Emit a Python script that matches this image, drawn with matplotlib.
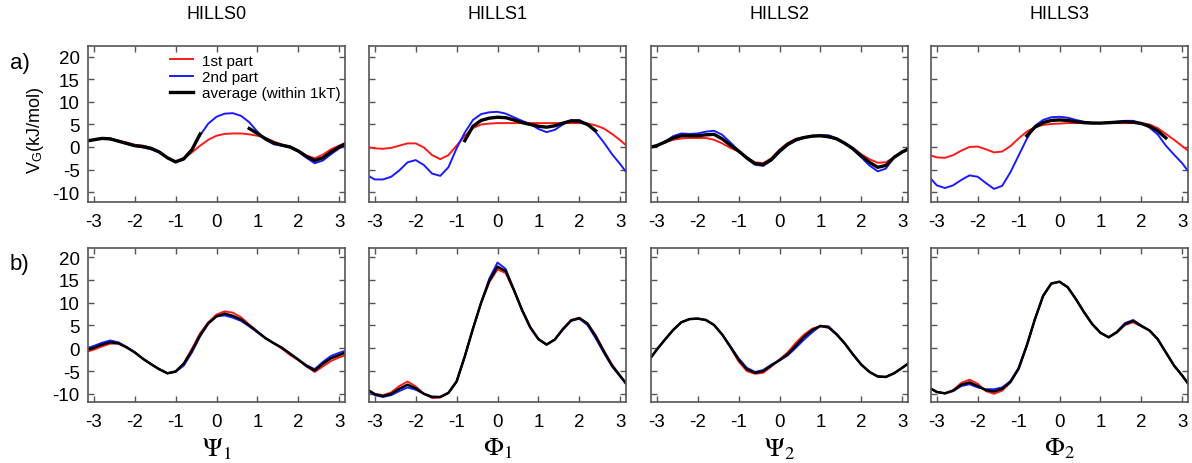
import numpy as np
import matplotlib
matplotlib.use("Agg")
import matplotlib.pyplot as plt

plt.rcParams['font.family'] = ['Liberation Sans', 'DejaVu Sans']
plt.rcParams['mathtext.fontset'] = 'stix'
plt.rcParams['axes.unicode_minus'] = False

# common grid of torsion angles (rad)
phi = [-3.14, -3.0, -2.8, -2.6, -2.4, -2.2, -2.0, -1.8, -1.6, -1.4, -1.2, -1.0, -0.8,
       -0.6, -0.4, -0.2, 0.0, 0.2, 0.4, 0.6, 0.8, 1.0, 1.2, 1.4, 1.6, 1.8, 2.0,
       2.2, 2.4, 2.6, 2.8, 3.0, 3.14]
nan = np.nan

titles = ["HILLS0", "HILLS1", "HILLS2", "HILLS3"]
xlabels = [r"$\Psi_1$", r"$\Phi_1$", r"$\Psi_2$", r"$\Phi_2$"]
legend_labels = ["1st part", "2nd part", "average (within 1kT)"]

# ---- row a) ----
a0_red = [1.4, 1.6, 1.9, 1.7, 1.4, 1.0, 0.5, 0.3, -0.2, -1.1, -2.4, -3.2, -2.6, -1.2, 0.3, 1.6,
          2.5, 2.9, 3.0, 3.0, 2.8, 2.5, 2.0, 1.2, 0.5, 0.1, -0.8, -1.9, -2.5, -1.7, -0.5, 0.3, 0.9]
a0_blue = [1.3, 1.6, 2.0, 1.9, 1.3, 0.7, 0.2, -0.1, -0.5, -1.2, -2.4, -3.4, -2.8, -0.5, 2.6, 5.2,
           6.7, 7.4, 7.5, 6.9, 5.5, 3.4, 1.6, 0.6, 0.3, -0.1, -1.0, -2.4, -3.6, -3.0, -1.6, -0.3, 0.4]
a0_avg = [1.4, 1.6, 1.9, 1.8, 1.3, 0.8, 0.3, 0.1, -0.3, -1.1, -2.4, -3.3, -2.6, -0.6, 2.9, nan,
          nan, nan, nan, nan, 4.1, 3.0, 1.8, 0.9, 0.4, 0.0, -0.9, -2.1, -3.0, -2.4, -1.1, 0.0, 0.6]

a1_red = [-0.1, -0.3, -0.4, -0.2, 0.3, 0.8, 0.8, -0.1, -1.8, -2.7, -1.8, 0.3, 2.5, 4.2, 5.0, 5.2,
          5.3, 5.3, 5.3, 5.3, 5.3, 5.3, 5.3, 5.3, 5.3, 5.3, 5.3, 5.2, 4.8, 4.1, 2.9, 1.5, 0.4]
a1_blue = [-6.5, -7.2, -7.2, -6.6, -5.2, -3.4, -2.9, -4.0, -5.9, -6.4, -4.5, -0.3, 3.2, 6.0, 7.3, 7.7,
           7.8, 7.4, 6.6, 5.8, 5.1, 4.0, 3.3, 3.8, 5.0, 5.9, 6.0, 5.0, 3.3, 1.0, -1.6, -3.8, -5.5]
a1_avg = [nan, nan, nan, nan, nan, nan, nan, nan, nan, nan, nan, nan, 1.4, 4.6, 5.9, 6.4,
          6.6, 6.5, 6.0, 5.4, 5.0, 4.6, 4.4, 4.7, 5.3, 5.8, 5.7, 5.0, 3.6, nan, nan, nan, nan]

a2_red = [0.0, 0.3, 1.0, 1.6, 1.9, 2.0, 2.0, 2.0, 1.6, 0.8, -0.2, -1.0, -2.3, -3.4, -3.6, -2.5,
          -0.6, 0.9, 1.8, 2.2, 2.4, 2.4, 2.1, 1.8, 0.8, -0.3, -1.6, -2.7, -3.5, -3.4, -2.3, -1.2, -0.5]
a2_blue = [0.0, 0.3, 1.2, 2.4, 3.0, 2.9, 3.0, 3.4, 3.6, 2.7, 1.0, -0.8, -2.6, -3.9, -4.2, -3.0,
           -1.2, 0.4, 1.4, 2.1, 2.5, 2.6, 2.6, 1.9, 0.8, -0.6, -2.3, -4.1, -5.4, -4.8, -2.3, -1.0, -0.4]
a2_avg = [0.0, 0.3, 1.1, 2.0, 2.5, 2.5, 2.5, 2.7, 2.8, 1.8, 0.4, -0.9, -2.4, -3.7, -3.9, -2.8,
          -0.9, 0.6, 1.6, 2.1, 2.4, 2.5, 2.3, 1.8, 0.8, -0.4, -2.0, -3.4, -4.5, -4.1, -2.3, -1.1, -0.5]

a3_red = [-1.9, -2.3, -2.4, -1.8, -0.8, 0.0, 0.1, -0.5, -1.2, -1.0, 0.2, 1.9, 3.4, 4.4, 4.9, 5.1,
          5.2, 5.3, 5.3, 5.3, 5.3, 5.3, 5.3, 5.3, 5.3, 5.3, 5.3, 5.0, 4.2, 2.9, 1.6, 0.2, -0.8]
a3_blue = [-7.1, -8.5, -9.1, -8.5, -7.3, -6.3, -6.6, -8.0, -9.3, -8.6, -5.6, -1.9, 1.8, 4.7, 6.0, 6.6,
           6.7, 6.5, 6.0, 5.6, 5.4, 5.3, 5.4, 5.6, 5.8, 5.8, 5.3, 4.3, 2.8, 0.3, -1.7, -3.6, -5.3]
a3_avg = [nan, nan, nan, nan, nan, nan, nan, nan, nan, nan, nan, nan, 2.5, 4.4, 5.4, 5.9,
          6.0, 5.9, 5.6, 5.4, 5.3, 5.3, 5.4, 5.5, 5.6, 5.5, 5.2, 4.6, 3.6, 2.0, nan, nan, nan]

# ---- row b) ----
b0_red = [-0.7, -0.3, 0.4, 1.0, 1.0, 0.2, -0.9, -2.3, -3.5, -4.6, -5.5, -5.1, -3.3, -0.1, 3.3, 5.7,
          7.4, 8.1, 7.8, 6.8, 5.2, 3.7, 2.2, 1.1, -0.1, -1.5, -2.6, -4.0, -5.2, -4.0, -2.8, -2.0, -1.6]
b0_blue = [0.1, 0.5, 1.2, 1.7, 1.3, 0.3, -0.9, -2.3, -3.5, -4.6, -5.5, -5.2, -3.8, -0.9, 2.6, 5.4,
           7.0, 7.2, 6.7, 6.0, 4.8, 3.5, 2.2, 1.1, 0.1, -1.2, -2.5, -3.7, -4.6, -3.0, -1.7, -1.0, -0.6]
b0_avg = [-0.3, 0.1, 0.8, 1.3, 1.1, 0.2, -0.9, -2.3, -3.5, -4.6, -5.5, -5.1, -3.4, -0.5, 2.9, 5.5,
          7.0, 7.6, 7.1, 6.3, 5.0, 3.6, 2.2, 1.1, 0.1, -1.2, -2.5, -3.9, -4.9, -3.4, -2.2, -1.5, -1.0]

b1_red = [-9.3, -10.0, -10.3, -9.7, -8.3, -7.3, -8.4, -10.0, -10.9, -10.8, -9.8, -7.3, -1.8, 4.3, 10.0, 14.5,
          17.3, 16.5, 12.7, 8.5, 4.7, 2.0, 0.8, 1.9, 4.3, 6.2, 6.7, 5.5, 2.9, -0.5, -3.6, -6.0, -7.8]
b1_blue = [-9.5, -10.3, -10.7, -10.3, -9.4, -8.6, -9.1, -10.0, -10.6, -10.7, -9.8, -7.3, -1.8, 4.3, 10.0, 15.3,
           18.8, 17.4, 12.9, 8.3, 4.5, 2.0, 0.8, 1.9, 4.1, 6.0, 6.5, 5.1, 2.2, -1.0, -4.0, -6.2, -7.7]
b1_avg = [-9.3, -10.1, -10.5, -10.0, -8.9, -8.0, -8.8, -10.0, -10.7, -10.7, -9.8, -7.3, -1.8, 4.3, 10.0, 14.8,
          17.9, 16.9, 12.8, 8.4, 4.6, 2.0, 0.8, 1.9, 4.2, 6.1, 6.6, 5.4, 2.6, -0.7, -3.8, -6.1, -7.7]

b2_red = [-2.0, -0.3, 1.9, 4.0, 5.7, 6.4, 6.5, 6.2, 5.1, 3.0, 0.2, -2.9, -5.0, -5.6, -5.4, -4.0,
          -2.5, -0.9, 1.2, 3.0, 4.3, 4.8, 4.5, 3.0, 1.0, -1.4, -3.6, -5.2, -6.2, -6.3, -5.5, -4.3, -3.4]
b2_blue = [-2.0, -0.3, 1.9, 4.0, 5.7, 6.4, 6.5, 6.2, 5.1, 3.0, 0.4, -2.2, -4.3, -5.2, -4.8, -3.6,
           -2.7, -1.6, 0.1, 1.9, 3.5, 4.9, 4.8, 3.1, 1.0, -1.4, -3.6, -5.2, -6.2, -6.3, -5.5, -4.3, -3.4]
b2_avg = [-2.0, -0.3, 1.9, 4.0, 5.7, 6.4, 6.5, 6.2, 5.1, 3.0, 0.3, -2.5, -4.6, -5.4, -5.0, -3.8,
          -2.6, -1.3, 0.6, 2.5, 4.0, 4.9, 4.6, 3.0, 1.0, -1.4, -3.6, -5.2, -6.2, -6.3, -5.5, -4.3, -3.4]

b3_red = [-8.9, -9.6, -9.9, -9.2, -7.6, -6.9, -7.8, -9.4, -10.0, -9.3, -7.5, -4.5, 0.6, 6.4, 11.5, 14.2,
          14.6, 13.4, 10.8, 7.9, 5.3, 3.4, 2.4, 3.4, 5.1, 5.7, 4.8, 3.9, 2.0, -0.9, -3.8, -6.0, -7.8]
b3_blue = [-8.9, -9.6, -9.9, -9.4, -8.3, -7.9, -8.6, -9.0, -9.0, -8.6, -7.2, -4.3, 0.6, 6.4, 11.5, 14.2,
           14.6, 13.4, 10.8, 7.9, 5.3, 3.4, 2.4, 3.6, 5.5, 6.2, 5.0, 3.9, 2.0, -0.9, -3.8, -6.0, -7.7]
b3_avg = [-8.9, -9.6, -9.9, -9.3, -8.0, -7.5, -8.3, -9.2, -9.5, -8.9, -7.4, -4.5, 0.6, 6.4, 11.5, 14.2,
          14.6, 13.4, 10.8, 7.9, 5.3, 3.4, 2.4, 3.5, 5.3, 6.0, 4.9, 3.9, 2.0, -0.9, -3.8, -6.0, -7.7]

row_a = [(a0_red, a0_blue, a0_avg), (a1_red, a1_blue, a1_avg),
         (a2_red, a2_blue, a2_avg), (a3_red, a3_blue, a3_avg)]
row_b = [(b0_red, b0_blue, b0_avg), (b1_red, b1_blue, b1_avg),
         (b2_red, b2_blue, b2_avg), (b3_red, b3_blue, b3_avg)]

W, H = 1192, 464
fig = plt.figure(figsize=(W / 100, H / 100), dpi=100)

lefts = [88, 369, 651, 931]
pw = 257
rows = [(47, 203, (-12.2, 22.4)), (249, 403, (-11.8, 22.0))]
frame_col = '#555555'


def style_axes(ax, ylim, show_y):
    ax.set_xlim(-np.pi, np.pi)
    ax.set_ylim(*ylim)
    ax.set_xticks([-3, -2, -1, 0, 1, 2, 3])
    ax.set_yticks([-10, -5, 0, 5, 10, 15, 20])
    ax.tick_params(direction='in', length=4, width=1, color=frame_col,
                   top=True, right=True, labelsize=13.5, pad=8)
    ax.tick_params(axis='y', pad=6)
    if not show_y:
        ax.set_yticklabels([])
    for s in ax.spines.values():
        s.set_color(frame_col)
        s.set_linewidth(1.2)


for r, (top, bot, ylim) in enumerate(rows):
    data = row_a if r == 0 else row_b
    for i in range(4):
        ax = fig.add_axes([lefts[i] / W, 1 - bot / H, pw / W, (bot - top) / H])
        red, blue, avg = data[i]
        lw_avg = 2.4 if r == 0 else 1.8
        ax.plot(phi, red, color='#ff1a1a', lw=1.4, label=legend_labels[0])
        ax.plot(phi, blue, color='#1a1aff', lw=1.4, label=legend_labels[1])
        ax.plot(phi, avg, color='black', lw=lw_avg, label=legend_labels[2])
        style_axes(ax, ylim, i == 0)
        if r == 0:
            ax.set_title(titles[i], fontsize=13, pad=20)
            if i == 0:
                ax.legend(loc='upper left', bbox_to_anchor=(0.32, 0.95), frameon=False,
                          fontsize=11, handlelength=1.5, handletextpad=0.6,
                          labelspacing=0.15, borderaxespad=0, borderpad=0)
        else:
            ax.set_xlabel(xlabels[i], fontsize=19, labelpad=4)

fig.text(10 / W, 1 - 63 / H, "a)", fontsize=16, va='center', ha='left')
fig.text(10 / W, 1 - 265 / H, "b)", fontsize=16, va='center', ha='left')
fig.text(36 / W, 1 - 130 / H, r"V$_\mathregular{G}$(kJ/mol)", fontsize=13, rotation=90,
         va='center', ha='center')

fig.savefig("out.png", dpi=100)
